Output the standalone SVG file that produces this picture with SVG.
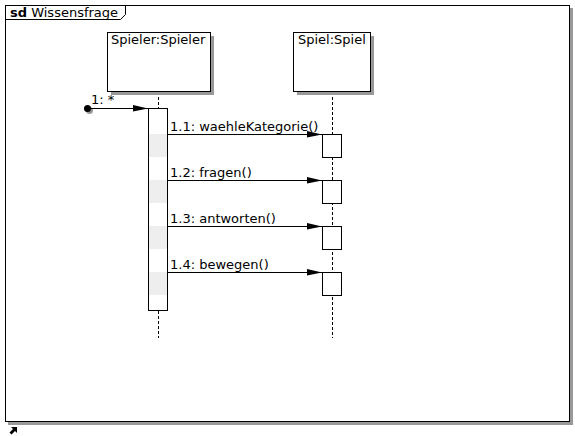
<svg xmlns="http://www.w3.org/2000/svg" width="575" height="436" viewBox="0 0 575 436">
<defs>
<style>
text{font-family:"DejaVu Sans","Liberation Sans",sans-serif;font-size:13px;fill:#000}
.box{fill:#fff;stroke:#000;stroke-width:1}
.shadow{fill:#999;stroke:none}
.life{stroke:#000;stroke-width:1;stroke-dasharray:3,2;fill:none}
.msg{stroke:#000;stroke-width:1;fill:none}
.hl{fill:#eeeeee;stroke:none}
</style>
<marker id="arr" markerWidth="16" markerHeight="8" refX="15" refY="3.5" orient="auto" markerUnits="userSpaceOnUse">
<path d="M0,0 L15,3.5 L0,6.5 Z" fill="#000"/>
</marker>
</defs>
<rect width="575" height="436" fill="#fff"/>
<g id="frame">
<rect class="shadow" x="8" y="8" width="565" height="417"/>
<rect class="box" x="5.5" y="5.5" width="564" height="416"/>
<path d="M5.5,19.5 L120.5,19.5 L125.5,14.5 L125.5,5.5" fill="none" stroke="#000"/>
<text x="10" y="17"><tspan font-weight="bold">sd</tspan> Wissensfrage</text>
</g>
<g id="lifelines">
<line class="life" x1="158.5" y1="92" x2="158.5" y2="108"/>
<line class="life" x1="158.5" y1="311" x2="158.5" y2="338"/>
<line class="life" x1="332.5" y1="92" x2="332.5" y2="338"/>
</g>
<g id="spieler">
<rect class="shadow" x="111" y="36" width="103" height="59"/>
<rect class="box" x="107.5" y="32.5" width="103" height="59"/>
<text x="111" y="44">Spieler:Spieler</text>
</g>
<g id="spiel">
<rect class="shadow" x="297" y="36" width="77" height="59"/>
<rect class="box" x="293.5" y="32.5" width="77" height="59"/>
<text x="298" y="44">Spiel:Spiel</text>
</g>
<g id="activation-spieler">
<rect class="box" x="148.5" y="108.5" width="19" height="202"/>
<rect class="hl" x="149" y="134" width="18" height="23"/>
<rect class="hl" x="149" y="180" width="18" height="23"/>
<rect class="hl" x="149" y="226" width="18" height="23"/>
<rect class="hl" x="149" y="272" width="18" height="23"/>
</g>
<g id="activations-spiel">
<rect class="box" x="322.5" y="134.5" width="19" height="23"/>
<rect class="box" x="322.5" y="180.5" width="19" height="23"/>
<rect class="box" x="322.5" y="226.5" width="19" height="23"/>
<rect class="box" x="322.5" y="272.5" width="19" height="23"/>
</g>
<g id="found">
<circle cx="89.5" cy="110.5" r="3.5" fill="#999"/>
<circle cx="87.5" cy="108.5" r="3.5" fill="#000"/>
</g>
<g id="connectors">
<line class="msg" x1="88" y1="108.5" x2="148" y2="108.5" marker-end="url(#arr)"/>
<text x="91" y="104">1: *</text>
<line class="msg" x1="167" y1="134.5" x2="322" y2="134.5" marker-end="url(#arr)"/>
<text x="170" y="131">1.1: waehleKategorie()</text>
<line class="msg" x1="167" y1="180.5" x2="322" y2="180.5" marker-end="url(#arr)"/>
<text x="170" y="177">1.2: fragen()</text>
<line class="msg" x1="167" y1="226.5" x2="322" y2="226.5" marker-end="url(#arr)"/>
<text x="170" y="223">1.3: antworten()</text>
<line class="msg" x1="167" y1="272.5" x2="322" y2="272.5" marker-end="url(#arr)"/>
<text x="170" y="269">1.4: bewegen()</text>
</g>
<g id="corner-icon">
<path d="M11,427 L17,427 L17,433 L15,431 L11.5,434.5 L9.5,432.5 L13,429 Z" fill="#000"/>
</g>
</svg>
